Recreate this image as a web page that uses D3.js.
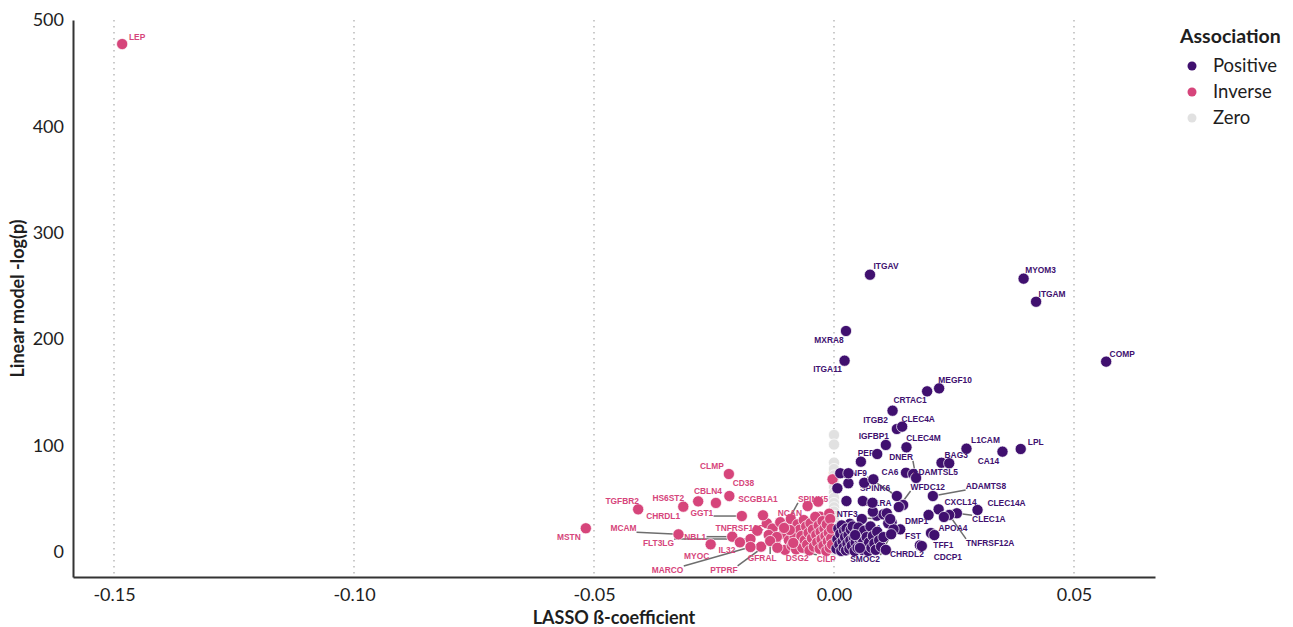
<!DOCTYPE html>
<html>
<head>
<meta charset="utf-8">
<script src="https://cdn.jsdelivr.net/npm/d3@7"></script>
<style>
  body { margin: 0; background: #fff; }
  svg text { font-family: Lato, "Open Sans", sans-serif; }
</style>
</head>
<body>
<div id="chart"></div>
<script>
// Tick values and legend groups
const xTicks = [-0.15, -0.10, -0.05, 0.00, 0.05];
const yTicks = [0, 100, 200, 300, 400, 500];
const groups = ["Positive", "Inverse", "Zero"];

// Labelled proteins: [name, LASSO beta, -log(p)]
const positiveLabelled = [
  ["ITGAV", 0.0075, 260.6], ["MYOM3", 0.0395, 256.9], ["ITGAM", 0.0421, 235.2],
  ["MXRA8", 0.0025, 207.7], ["ITGA11", 0.0022, 179.8], ["COMP", 0.0567, 178.9],
  ["MEGF10", 0.0219, 153.8], ["CRTAC1", 0.0194, 151.0], ["ITGB2", 0.0122, 132.8],
  ["CLEC4A", 0.0142, 117.8], ["IGFBP1", 0.0108, 100.6], ["CLEC4M", 0.0151, 98.4],
  ["PEPD", 0.0090, 92.1], ["L1CAM", 0.0276, 97.1], ["CA14", 0.0351, 94.3],
  ["LPL", 0.0389, 96.8], ["BAG3", 0.0240, 83.4], ["CA6", 0.0150, 74.5],
  ["ADAMTSL5", 0.0165, 73.3], ["DNER", 0.0171, 69.6], ["C1QTNF9", 0.0131, 52.6],
  ["SPINK6", 0.0144, 44.2], ["WFDC12", 0.0135, 42.3], ["ADAMTS8", 0.0206, 52.6],
  ["CXCL14", 0.0218, 40.1], ["CLEC14A", 0.0299, 39.5], ["CLEC1A", 0.0256, 36.4],
  ["TNFRSF12A", 0.0240, 34.8], ["APOA4", 0.0229, 32.9], ["DMP1", 0.0197, 34.8],
  ["FST", 0.0202, 17.8], ["TFF1", 0.0209, 15.9], ["CHRDL2", 0.0179, 6.3],
  ["CDCP1", 0.0183, 5.6], ["SMOC2", 0.0119, 16.7], ["NTF3", 0.0117, 31.0],
  ["IL11RA", 0.0080, 46.3], ["PLA2G2A", 0.0044, 15.9], ["LEPR", 0.0054, 3.8]
];
const inverseLabelled = [
  ["LEP", -0.1483, 477.4], ["MSTN", -0.0517, 22.3], ["TGFBR2", -0.0408, 40.1],
  ["HS6ST2", -0.0314, 42.6], ["CHRDL1", -0.0283, 47.6], ["CBLN4", -0.0246, 46.1],
  ["CLMP", -0.0219, 73.3], ["CD38", -0.0218, 52.6], ["SCGB1A1", -0.0148, 34.5],
  ["GGT1", -0.0192, 33.8], ["MCAM", -0.0324, 16.6], ["NBL1", -0.0212, 14.4],
  ["FLT3LG", -0.0174, 12.2], ["MYOC", -0.0257, 7.2], ["IL32", -0.0196, 9.1],
  ["MARCO", -0.0174, 4.7], ["TNFRSF10C", -0.0136, 16.0], ["PTPRF", -0.0119, 14.1],
  ["GFRAL", -0.0133, 10.3], ["CILP", -0.0118, 4.0], ["DSG2", -0.0085, 8.5],
  ["NCAN", -0.0092, 20.7], ["SPINK5", -0.0104, 22.6]
];

// Unlabelled proteins: [LASSO beta, -log(p)]
const positiveOther = [
  [0.0026, 47.9], [0.0030, 64.6], [0.0013, 74.0], [0.0030, 74.0], [0.0007, 59.9],
  [0.0063, 65.1], [0.0082, 68.3], [0.0056, 84.9], [0.0060, 47.9], [0.0089, 34.1],
  [0.0103, 35.4], [0.0120, 27.9], [0.0058, 31.0], [0.0033, 26.5], [0.0138, 21.3],
  [0.0131, 115.6], [0.0224, 83.9], [0.0110, 36.4], [0.0113, 27.0], [0.0124, 21.3],
  [0.0081, 37.9],
  [0.0005, 3], [0.0007, 12], [0.0009, 22], [0.0011, 7], [0.0013, 17], [0.0015, 1],
  [0.0016, 25], [0.0018, 10], [0.0020, 4], [0.0021, 20], [0.0023, 14], [0.0025, 1.5],
  [0.0026, 22], [0.0028, 8], [0.0030, 16], [0.0032, 3], [0.0034, 11], [0.0035, 21],
  [0.0037, 6], [0.0039, 24], [0.0041, 14], [0.0043, 1], [0.0045, 9], [0.0047, 18],
  [0.0049, 4], [0.0051, 23], [0.0053, 12], [0.0055, 6], [0.0057, 16], [0.0059, 2],
  [0.0061, 10], [0.0063, 20], [0.0066, 5], [0.0068, 14], [0.0071, 1], [0.0073, 9],
  [0.0076, 24], [0.0078, 4], [0.0081, 15], [0.0084, 8], [0.0087, 2], [0.0090, 19],
  [0.0094, 11], [0.0098, 5], [0.0103, 14], [0.0108, 2]
];
const inverseOther = [
  [-0.0003, 68.3], [-0.0033, 47.3], [-0.0029, 33.2], [-0.0055, 43.2], [-0.0010, 36],
  [-0.0160, 20], [-0.0152, 5], [-0.0140, 27], [-0.0128, 22], [-0.0122, 10],
  [-0.0112, 28], [-0.0105, 17], [-0.0102, 2], [-0.0098, 24], [-0.0094, 11],
  [-0.0090, 31], [-0.0088, 6], [-0.0085, 19], [-0.0082, 14], [-0.0079, 2.5],
  [-0.0076, 26], [-0.0074, 9], [-0.0071, 21], [-0.0068, 15], [-0.0066, 4],
  [-0.0063, 30], [-0.0061, 11], [-0.0058, 24], [-0.0056, 7], [-0.0053, 18],
  [-0.0051, 1.5], [-0.0049, 27], [-0.0046, 13], [-0.0044, 21], [-0.0042, 5],
  [-0.0039, 33], [-0.0037, 16], [-0.0035, 9], [-0.0032, 25], [-0.0030, 3],
  [-0.0028, 19], [-0.0026, 12], [-0.0024, 29], [-0.0022, 6], [-0.0020, 22],
  [-0.0018, 15], [-0.0016, 1], [-0.0015, 26], [-0.0013, 10], [-0.0011, 18],
  [-0.0009, 4], [-0.0008, 31], [-0.0006, 13], [-0.0005, 22], [-0.0004, 7]
];
const zeroLogP = [110, 101, 84, 78, 72, 66, 61, 56, 51, 46, 42, 38, 34, 30, 26, 22, 18, 14, 10, 7, 4, 1.5];

// Label placement (pixel offset of label centre from its point, and whether a leader line is drawn)
const labelNudge = {
  LEP: [15, -7], MSTN: [-17, 9], TGFBR2: [-16, -8], HS6ST2: [-15, -9], CHRDL1: [-35, 15],
  CBLN4: [-8, -12], CLMP: [-17, -8], CD38: [14, -13], SCGB1A1: [-5, -16],
  GGT1: [-40, -3, true], MCAM: [-55, -6, true], NBL1: [-37, 0, true], FLT3LG: [-92, 4, true],
  MYOC: [-14, 12], IL32: [-13, 8], MARCO: [-83, 23, true], TNFRSF10C: [-29, -7],
  PTPRF: [-53, 33, true], GFRAL: [-8, 17, true], CILP: [49, 11, true], DSG2: [4, 15],
  NCAN: [0, -17, true], SPINK5: [29, -29, true],
  ITGAV: [16, -9], MYOM3: [17, -9], ITGAM: [16, -8], MXRA8: [-17, 9], ITGA11: [-17, 8],
  COMP: [16, -8], MEGF10: [16, -8], CRTAC1: [-17, 9], ITGB2: [-17, 9], CLEC4A: [16, -8],
  IGFBP1: [-12, -9], CLEC4M: [17, -9], PEPD: [-8, -1], L1CAM: [19, -9], CA14: [-14, 9],
  LPL: [15, -7], BAG3: [7, -8], CA6: [-16, -1], ADAMTSL5: [22, -2], DNER: [-15, -21, true],
  C1QTNF9: [-49, -23, true], SPINK6: [-28, -17, true], WFDC12: [29, -20, true],
  ADAMTS8: [53, -10, true], CXCL14: [22, -7], CLEC14A: [29, -7], CLEC1A: [32, 6, true],
  TNFRSF12A: [41, 28, true], APOA4: [9, 11], DMP1: [-12, 6], FST: [-18, 3], TFF1: [9, 10],
  CHRDL2: [-13, 9], CDCP1: [26, 11], SMOC2: [-26, 25, true], NTF3: [-43, -5, true],
  IL11RA: [5, 0], PLA2G2A: [7, -7], LEPR: [8, -5]
};
// Labels that sit partly underneath the point cloud
const labelsBehind = ["C1QTNF9", "PEPD", "IL11RA", "PLA2G2A", "LEPR", "SPINK6"];

const colors = {Positive: "#40106f", Inverse: "#d6457b", Zero: "#e1e1e1"};

const width = 1293, height = 627;
const plot = {left: 73, right: 1155, top: 20, bottom: 577};

const svg = d3.select("#chart").append("svg")
  .attr("width", width)
  .attr("height", height);

// Scales: calibrated on tick positions, then stretched to the panel edges
const x = d3.scaleLinear().domain([-0.15, 0.05]).range([114, 1074]);
x.domain([x.invert(plot.left), x.invert(plot.right)]).range([plot.left, plot.right]);
const y = d3.scaleLinear().domain([0, 500]).range([552, 20]);
y.domain([y.invert(plot.bottom), 500]).range([plot.bottom, plot.top]);

// Vertical dotted grid lines
svg.append("g")
  .selectAll("line")
  .data(xTicks)
  .enter()
  .append("line")
    .attr("x1", d => x(d))
    .attr("x2", d => x(d))
    .attr("y1", plot.top)
    .attr("y2", plot.bottom)
    .attr("stroke", "#b5b5b5")
    .attr("stroke-width", 1.4)
    .attr("stroke-dasharray", "1.4,4.6");

// Axes
const xAxis = svg.append("g")
  .attr("transform", `translate(0,${plot.bottom})`)
  .call(d3.axisBottom(x).tickValues(xTicks).tickFormat(d => d.toFixed(2)).tickSize(0).tickSizeOuter(0).tickPadding(11));
const yAxis = svg.append("g")
  .attr("transform", `translate(${plot.left},0)`)
  .call(d3.axisLeft(y).tickValues(yTicks).tickSize(0).tickSizeOuter(0).tickPadding(9));

[xAxis, yAxis].forEach(a => {
  a.select(".domain").attr("stroke", "#333").attr("stroke-width", 2);
  a.selectAll("text")
    .style("font-size", "18px")
    .style("font-family", "Lato, sans-serif")
    .attr("fill", "#1e1e1e");
});

// Axis titles
svg.append("text")
  .attr("x", (plot.left + plot.right) / 2)
  .attr("y", 624)
  .attr("text-anchor", "middle")
  .style("font-size", "18px")
  .style("font-weight", "bold")
  .attr("fill", "#1e1e1e")
  .text("LASSO ß-coefficient");

svg.append("text")
  .attr("transform", `translate(24,${(plot.top + plot.bottom) / 2}) rotate(-90)`)
  .attr("text-anchor", "middle")
  .style("font-size", "18px")
  .style("font-weight", "bold")
  .attr("fill", "#1e1e1e")
  .text("Linear model -log(p)");

// Point records
const points = [];
zeroLogP.forEach(p => points.push({beta: 0, logp: p, group: "Zero"}));
inverseOther.forEach(d => points.push({beta: d[0], logp: d[1], group: "Inverse"}));
inverseLabelled.forEach(d => points.push({name: d[0], beta: d[1], logp: d[2], group: "Inverse"}));
positiveOther.forEach(d => points.push({beta: d[0], logp: d[1], group: "Positive"}));
positiveLabelled.forEach(d => points.push({name: d[0], beta: d[1], logp: d[2], group: "Positive"}));

const labelled = points.filter(d => d.name);

const segLayer = svg.append("g");
const backLabelLayer = svg.append("g");
const pointLayer = svg.append("g");
const labelLayer = svg.append("g");

// Labels
function addLabels(layer, data) {
  return layer.selectAll("text")
    .data(data)
    .enter()
    .append("text")
      .attr("x", d => x(d.beta) + labelNudge[d.name][0])
      .attr("y", d => y(d.logp) + labelNudge[d.name][1])
      .attr("text-anchor", "middle")
      .attr("dy", "0.35em")
      .style("font-family", "'Liberation Sans', Arial, sans-serif")
      .style("font-size", "8.4px")
      .style("font-weight", "bold")
      .attr("fill", d => colors[d.group])
      .text(d => d.name);
}
const backLabels = addLabels(backLabelLayer, labelled.filter(d => labelsBehind.includes(d.name)));
const frontLabels = addLabels(labelLayer, labelled.filter(d => !labelsBehind.includes(d.name)));

// Leader lines from label box to point
function addSegment(d) {
  if (!labelNudge[d.name][2]) return;
  const b = this.getBBox();
  const px = x(d.beta), py = y(d.logp);
  const cx = Math.max(b.x, Math.min(px, b.x + b.width));
  const cy = Math.max(b.y + 1, Math.min(py, b.y + b.height - 1));
  segLayer.append("line")
    .attr("x1", cx).attr("y1", cy)
    .attr("x2", px).attr("y2", py)
    .attr("stroke", "#6e6e6e")
    .attr("stroke-width", 1.5);
}
backLabels.each(addSegment);
frontLabels.each(addSegment);

// Points
pointLayer.selectAll("circle")
  .data(points)
  .enter()
  .append("circle")
    .attr("cx", d => x(d.beta))
    .attr("cy", d => y(d.logp))
    .attr("r", 5.6)
    .attr("fill", d => colors[d.group])
    .attr("stroke", "#fff")
    .attr("stroke-width", 0.7);

// Legend
const legend = svg.append("g").attr("transform", "translate(1180,0)");
legend.append("text")
  .attr("x", 0)
  .attr("y", 43)
  .style("font-size", "19.5px")
  .style("font-weight", "bold")
  .attr("fill", "#1e1e1e")
  .text("Association");

const legendItems = legend.selectAll(".legend-item")
  .data(groups)
  .enter()
  .append("g")
    .attr("class", "legend-item")
    .attr("transform", (d, i) => `translate(0,${66 + i * 26})`);

legendItems.append("circle")
  .attr("cx", 12)
  .attr("r", 4.5)
  .attr("fill", d => colors[d]);

legendItems.append("text")
  .attr("x", 33)
  .attr("dy", "0.35em")
  .style("font-size", "18.5px")
  .attr("fill", "#1e1e1e")
  .text(d => d);
</script>
</body>
</html>
